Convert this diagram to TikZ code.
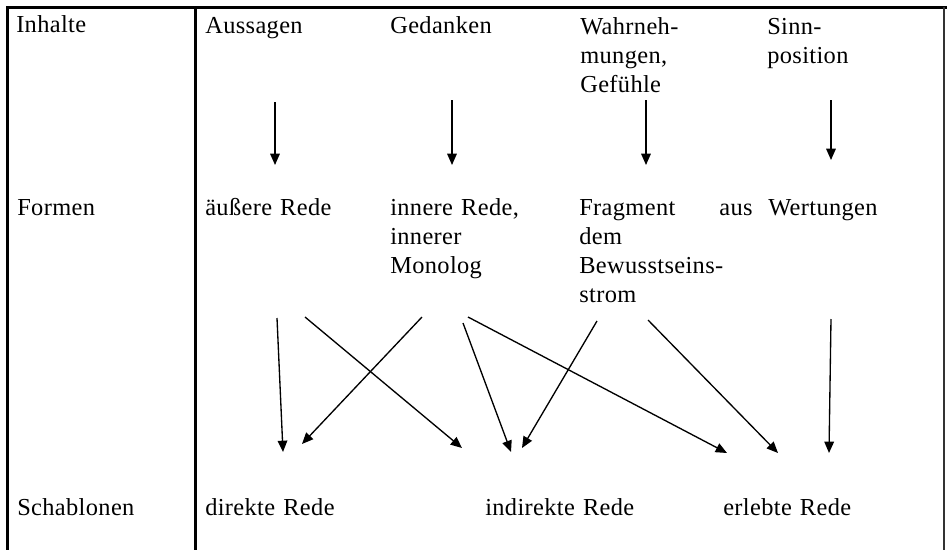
\documentclass[tikz,border=0pt]{standalone}
\usepackage{fontspec}
\setmainfont{Liberation Serif}[LetterSpace=1.5]
\usetikzlibrary{arrows.meta}
\begin{document}
\begin{tikzpicture}[x=0.75pt,y=-0.75pt,
  cell/.style={anchor=base west, inner sep=0pt, align=left, text width=#1},
  cell/.default=150pt,
  frame/.style={line width=2.25pt, black, line join=miter},
  rim/.style={line width=1.1pt, black!80},
  link/.style={line width=1pt, black, -{Triangle[length=8.5pt,width=7.2pt]}},
  font=\fontsize{18.3pt}{21.75pt}\selectfont]

% canvas
\fill[white] (0,0) rectangle (947,550);
\useasboundingbox (0,0) rectangle (947,550);

% table rules
\draw[frame] (7,550) -- (7,7) -- (947,7);
\draw[frame] (195,7) -- (195,550);
\draw[rim] (944,7) -- (944,550);

% row heads
\node[cell] (inhalte)    at (16,32)  {Inhalte};
\node[cell] (formen)     at (17,215) {Formen};
\node[cell] (schablonen) at (17,515) {Schablonen};

% contents
\node[cell] (aussagen) at (205,33) {Aussagen};
\node[cell] (gedanken) at (390,33) {Gedanken};
\node[cell] (wahrn)    at (580,34) {Wahrneh-\\mungen,\\Gefühle};
\node[cell] (sinn)     at (767,34) {Sinn-\\position};

% forms
\node[cell] (aeussere) at (205,215) {äußere Rede};
\node[cell] (innere)   at (390,215) {innere Rede,\\innerer\\Monolog};
\node[cell] (fragment) at (579,215) {\hbox to 130pt{Fragment\hfill aus}\\dem\\Bewusstseins-\\strom};
\node[cell] (wertung)  at (768,215) {Wertungen};

% templates
\node[cell] (direkt)   at (205,515) {direkte Rede};
\node[cell] (indirekt) at (485,515) {indirekte Rede};
\node[cell] (erlebt)   at (723,515) {erlebte Rede};

% arrow ends, contents -> forms
\coordinate (aussS) at (275,102); \coordinate (aussE) at (275,165);
\coordinate (gedS)  at (452,100); \coordinate (gedE)  at (452,165);
\coordinate (wahrS) at (646,100); \coordinate (wahrE) at (646,165);
\coordinate (sinnS) at (831,100); \coordinate (sinnE) at (831,160);

\draw[link] (aussS) -- (aussE);
\draw[link] (gedS)  -- (gedE);
\draw[link] (wahrS) -- (wahrE);
\draw[link] (sinnS) -- (sinnE);

% arrow ends, forms -> templates
\coordinate (aeuA) at (277,318); \coordinate (aeuB) at (305,317);
\coordinate (innA) at (422,317); \coordinate (innB) at (463,323); \coordinate (innC) at (468,317);
\coordinate (fraA) at (597,321); \coordinate (fraB) at (648,320);
\coordinate (werA) at (831,319);

\coordinate (dirA) at (283,452); \coordinate (dirB) at (302,444);
\coordinate (indA) at (462,448); \coordinate (indB) at (511,452); \coordinate (indC) at (522,448);
\coordinate (erlA) at (727,453); \coordinate (erlB) at (778,453); \coordinate (erlC) at (829,453);

\draw[link] (aeuA) -- (dirA);
\draw[link] (aeuB) -- (indA);
\draw[link] (innA) -- (dirB);
\draw[link] (innB) -- (indB);
\draw[link] (innC) -- (erlA);
\draw[link] (fraA) -- (indC);
\draw[link] (fraB) -- (erlB);
\draw[link] (werA) -- (erlC);
\end{tikzpicture}
\end{document}
